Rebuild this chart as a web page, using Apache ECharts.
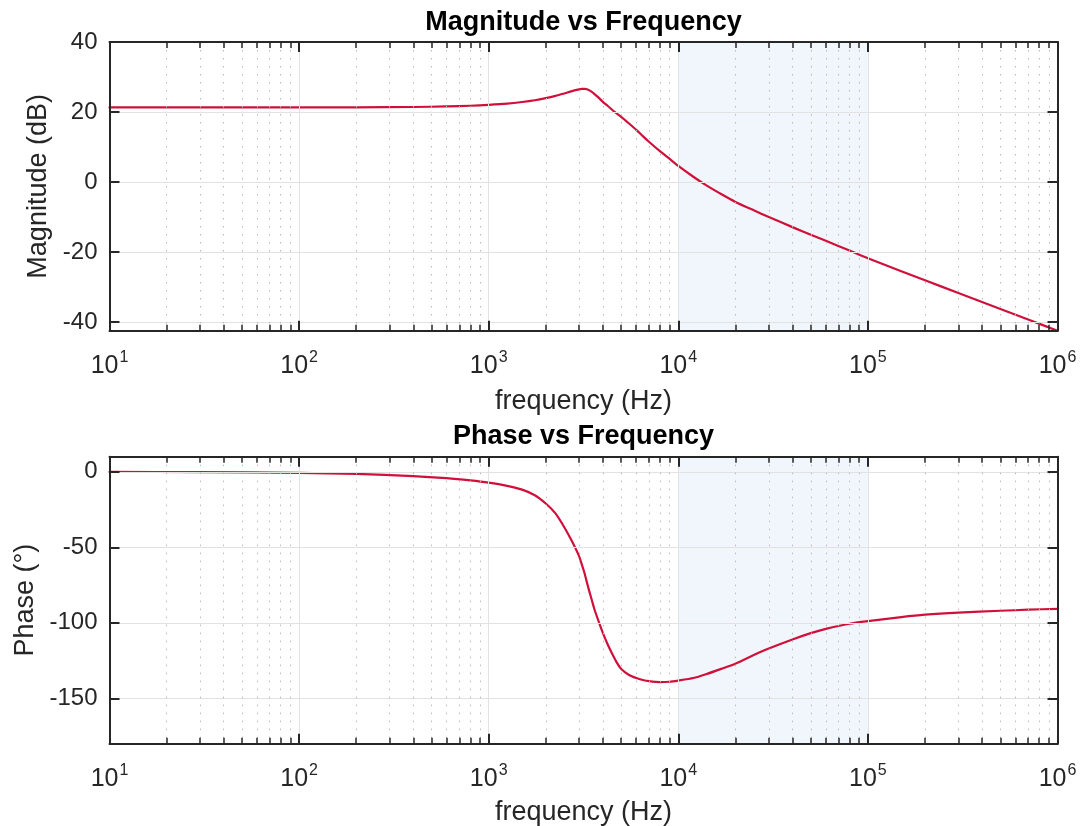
<!DOCTYPE html>
<html><head><meta charset="utf-8">
<script src="https://cdn.jsdelivr.net/npm/echarts@6/dist/echarts.min.js"></script>
<style>html,body{margin:0;padding:0;background:#fff}#c{width:1091px;height:826px}</style>
</head><body><div id="c"></div>
<script>
// ---- data ----
const freq = [10, 30, 100, 200, 400, 600, 800, 1000, 1250, 1500, 1750, 2000, 2250, 2500, 2750, 3000, 3100, 3200, 3300, 3400, 3500, 3600, 3800, 4000, 4250, 4500, 4750, 5000, 5500, 6000, 6500, 7000, 8000, 9000, 10000, 12000, 14000, 17000, 20000, 25000, 30000, 40000, 50000, 60000, 80000, 100000, 150000, 200000, 300000, 500000, 700000, 1000000];
const magnitude = [21.3, 21.3, 21.31, 21.33, 21.42, 21.58, 21.78, 22.05, 22.4, 22.85, 23.35, 23.95, 24.6, 25.3, 25.95, 26.45, 26.58, 26.6, 26.48, 26.18, 25.75, 25.2, 24.1, 22.9, 21.7, 20.5, 19.5, 18.6, 16.7, 14.9, 13.1, 11.5, 8.8, 6.6, 4.6, 1.5, -0.9, -3.6, -5.7, -8.1, -10.0, -12.9, -15.1, -16.8, -19.6, -21.8, -25.5, -28.1, -31.7, -36.3, -39.3, -42.5];
const phase = [-0.07, -0.2, -0.7, -1.4, -2.8, -4.2, -5.7, -7.2, -9.3, -11.8, -15.5, -21, -27.5, -36.5, -46, -56, -61.5, -67, -73.5, -79.5, -85, -90.5, -99, -106.6, -114.5, -121, -126.5, -130.5, -134.5, -136.5, -137.8, -138.6, -139.2, -139, -138.2, -136.5, -134, -130.3, -127, -121.3, -117, -111, -106.8, -104, -100.6, -98.9, -96.2, -94.6, -93.2, -92.0, -91.3, -90.7];
const magTicks = [-40, -20, 0, 20, 40];
const phaseTicks = [-150, -100, -50, 0];
const decadeTicks = [10, 100, 1000, 10000, 100000, 1000000];
const shadeBand = [10000, 100000];
const titles = ['Magnitude vs Frequency', 'Phase vs Frequency'];
const yNames = ['Magnitude (dB)', 'Phase (°)'];
const xName = 'frequency (Hz)';

// ---- styling / layout ----
const FONT = 'Liberation Sans';
const TXT = '#262626';
const AX = '#262626';
const minorTicks = [];
for (let d = 10; d < 1000000; d *= 10) for (let k = 2; k <= 9; k++) minorTicks.push(k * d);

const grids = [
  {left: 109.5, right: 33.5, top: 42, height: 288.7, outerBoundsMode: 'none'},
  {left: 109.5, right: 33.5, top: 456.7, height: 287, outerBoundsMode: 'none'}
];
const yRanges = [[-42.5, 40], [-180, 10]];
const yTickSets = [magTicks, phaseTicks];
const yNameGaps = [53, 66];
const xNameGaps = [57, 55];

const xAxis = [];
const yAxis = [];
for (let g = 0; g < 2; g++) {
  const base = {type: 'log', logBase: 10, min: 10, max: 1000000, gridIndex: g};
  xAxis.push(Object.assign({}, base, {
    position: 'bottom', z: 5,
    axisLine: {show: true, onZero: false, lineStyle: {color: AX, width: 2}},
    axisTick: {show: true, inside: true, length: 10, customValues: decadeTicks, lineStyle: {color: AX, width: 2}},
    splitLine: {show: true, lineStyle: {color: '#e2e2e2', width: 1}},
    axisLabel: {
      show: true, margin: 19, hideOverlap: false, showMinLabel: true, showMaxLabel: true,
      customValues: decadeTicks,
      formatter: v => '{b|10}{e|' + Math.round(Math.log10(v)) + '}',
      rich: {
        b: {fontFamily: FONT, fontSize: 25, color: TXT, verticalAlign: 'bottom'},
        e: {fontFamily: FONT, fontSize: 16, color: TXT, verticalAlign: 'bottom', padding: [0, 0, 13, 1]}
      }
    },
    name: xName, nameLocation: 'middle', nameGap: xNameGaps[g],
    nameTextStyle: {fontFamily: FONT, fontSize: 27, color: TXT}
  }));
  xAxis.push(Object.assign({}, base, {
    position: 'bottom', z: 5,
    axisLine: {show: false, onZero: false},
    axisTick: {show: true, inside: true, length: 6, customValues: minorTicks, lineStyle: {color: AX, width: 1.5}},
    splitLine: {show: true, lineStyle: {color: '#b8b8b8', width: 1, type: [1.5, 6.5]}},
    axisLabel: {show: false}
  }));
  xAxis.push(Object.assign({}, base, {
    position: 'top', z: 5,
    axisLine: {show: true, onZero: false, lineStyle: {color: AX, width: 2}},
    axisTick: {show: true, inside: true, length: 10, customValues: decadeTicks, lineStyle: {color: AX, width: 2}},
    splitLine: {show: false}, axisLabel: {show: false}
  }));
  xAxis.push(Object.assign({}, base, {
    position: 'top', z: 5,
    axisLine: {show: false, onZero: false},
    axisTick: {show: true, inside: true, length: 6, customValues: minorTicks, lineStyle: {color: AX, width: 1.5}},
    splitLine: {show: false}, axisLabel: {show: false}
  }));
  const yb = {type: 'value', min: yRanges[g][0], max: yRanges[g][1], gridIndex: g};
  yAxis.push(Object.assign({}, yb, {
    position: 'left', z: 5,
    axisLine: {show: true, onZero: false, lineStyle: {color: AX, width: 2}},
    axisTick: {show: true, inside: true, length: 10, customValues: yTickSets[g], lineStyle: {color: AX, width: 2}},
    splitLine: {show: true, lineStyle: {color: '#e2e2e2', width: 1}},
    axisLabel: {show: true, margin: 12, customValues: yTickSets[g], fontFamily: FONT, fontSize: 24, color: TXT, showMinLabel: true, showMaxLabel: true},
    name: yNames[g], nameLocation: 'middle', nameGap: yNameGaps[g], nameRotate: 90,
    nameTextStyle: {fontFamily: FONT, fontSize: 27, color: TXT}
  }));
  yAxis.push(Object.assign({}, yb, {
    position: 'right', z: 5,
    axisLine: {show: true, onZero: false, lineStyle: {color: AX, width: 2}},
    axisTick: {show: true, inside: true, length: 10, customValues: yTickSets[g], lineStyle: {color: AX, width: 2}},
    splitLine: {show: false}, axisLabel: {show: false}
  }));
}

const values = [magnitude, phase];
const series = [0, 1].map(g => ({
  type: 'line', xAxisIndex: g * 4, yAxisIndex: g * 2,
  data: freq.map((f, i) => [f, values[g][i]]),
  showSymbol: false, smooth: 0.2, sampling: null,
  lineStyle: {color: '#d0103a', width: 2.2, join: 'round', cap: 'round'},
  itemStyle: {color: '#d0103a'},
  z: 3,
  markArea: {
    silent: true,
    itemStyle: {color: 'rgba(190,215,240,0.22)'},
    data: [[{xAxis: shadeBand[0]}, {xAxis: shadeBand[1]}]]
  }
}));

const chart = echarts.init(document.getElementById('c'), null, {renderer: 'canvas'});
chart.setOption({
  animation: false,
  backgroundColor: '#ffffff',
  title: [
    {text: titles[0], left: 578.5, textAlign: 'center', top: 4, textStyle: {fontFamily: FONT, fontSize: 27, fontWeight: 'bold', color: '#000'}},
    {text: titles[1], left: 578.5, textAlign: 'center', top: 418, textStyle: {fontFamily: FONT, fontSize: 27, fontWeight: 'bold', color: '#000'}}
  ],
  grid: grids,
  xAxis: xAxis,
  yAxis: yAxis,
  series: series
});
</script>
</body></html>
